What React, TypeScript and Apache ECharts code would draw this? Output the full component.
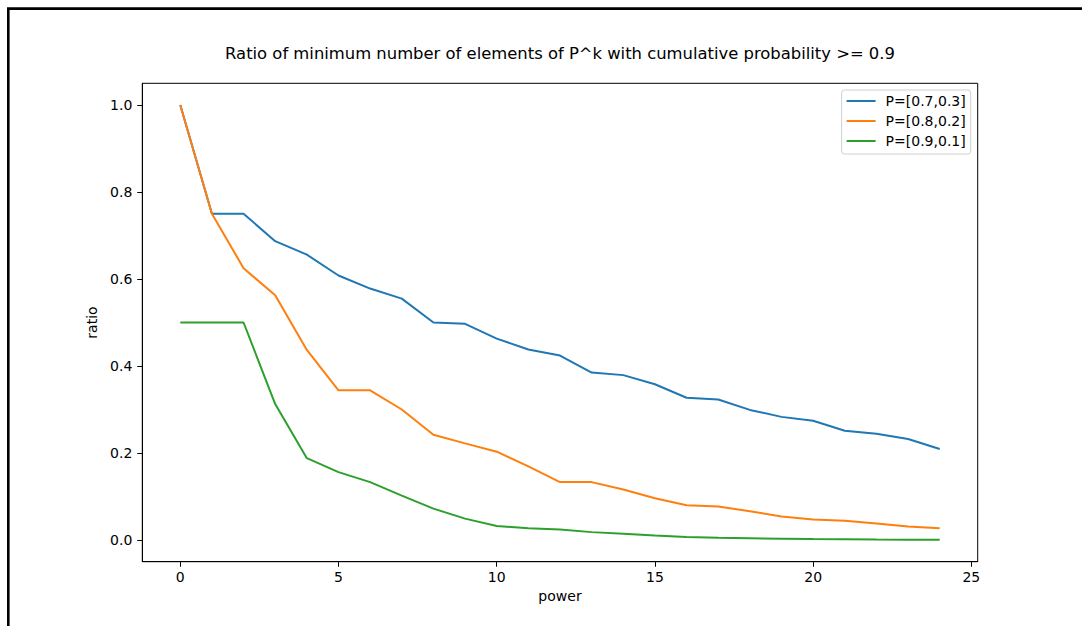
import React, { useEffect, useRef } from "react";
import * as echarts from "echarts";

const powers: number[] = Array.from({ length: 25 }, (_, i) => i);
const seriesNames: string[] = ["P=[0.7,0.3]", "P=[0.8,0.2]", "P=[0.9,0.1]"];
const ratioP73: number[] = [
  1.0, 0.75, 0.75, 0.687, 0.656, 0.608, 0.578, 0.555, 0.5, 0.497, 0.463, 0.438, 0.424,
  0.385, 0.379, 0.358, 0.327, 0.323, 0.299, 0.283, 0.274, 0.251, 0.244, 0.232, 0.209,
];
const ratioP82: number[] = [
  1.0, 0.75, 0.625, 0.5625, 0.437, 0.344, 0.344, 0.3, 0.242, 0.222, 0.203, 0.169, 0.133,
  0.133, 0.116, 0.096, 0.08, 0.077, 0.066, 0.054, 0.047, 0.044, 0.038, 0.031, 0.027,
];
const ratioP91: number[] = [
  0.5, 0.5, 0.5, 0.3125, 0.188, 0.156, 0.133, 0.102, 0.072, 0.049, 0.032, 0.027, 0.024,
  0.018, 0.014, 0.01, 0.007, 0.005, 0.004, 0.003, 0.002, 0.0015, 0.001, 0.0007, 0.0005,
];
const xTicks: number[] = [0, 5, 10, 15, 20, 25];
const yTicks: number[] = [0, 0.2, 0.4, 0.6, 0.8, 1.0];
const colors: string[] = ["#1f77b4", "#ff7f0e", "#2ca02c"];
const titleText = "Ratio of minimum number of elements of P^k with cumulative probability >= 0.9";

const FONT = "DejaVu Sans";

export default function App() {
  const ref = useRef<HTMLDivElement>(null);
  useEffect(() => {
    if (!ref.current) return;
    const chart = echarts.init(ref.current, undefined, { renderer: "svg" });
    const allData = [ratioP73, ratioP82, ratioP91];
    chart.setOption({
      animation: false,
      backgroundColor: "#ffffff",
      textStyle: { fontFamily: FONT },
      grid: {
        left: 142.3,
        top: 83.3,
        right: 104.3,
        bottom: 64.3,
        show: true,
        borderColor: "#000",
        borderWidth: 1,
        containLabel: false,
      },
      xAxis: {
        type: "value",
        min: -1.2,
        max: 25.2,
        name: "power",
        nameLocation: "middle",
        nameGap: 23,
        nameTextStyle: { fontSize: 14, color: "#000", fontFamily: FONT },
        splitLine: { show: false },
        axisLine: { show: true, onZero: false, lineStyle: { color: "#000", width: 1 } },
        axisTick: { show: true, inside: false, length: 5, customValues: xTicks, lineStyle: { color: "#000", width: 1 } },
        axisLabel: { customValues: xTicks, margin: 8, fontSize: 14, color: "#000", fontFamily: FONT },
      },
      yAxis: {
        type: "value",
        min: -0.05,
        max: 1.05,
        name: "ratio",
        nameLocation: "middle",
        nameGap: 27,
        nameTextStyle: { fontSize: 14, color: "#000", fontFamily: FONT },
        splitLine: { show: false },
        axisLine: { show: true, onZero: false, lineStyle: { color: "#000", width: 1 } },
        axisTick: { show: true, inside: false, length: 5, customValues: yTicks, lineStyle: { color: "#000", width: 1 } },
        axisLabel: {
          customValues: yTicks,
          margin: 10,
          fontSize: 14,
          color: "#000",
          fontFamily: FONT,
          formatter: (v: number) => v.toFixed(1),
        },
      },
      legend: {
        orient: "vertical",
        right: 111.3,
        top: 90,
        icon: "rect",
        itemWidth: 29,
        itemHeight: 2,
        itemGap: 6,
        padding: [4, 5, 6, 5],
        backgroundColor: "#fff",
        borderColor: "#d0d0d0",
        borderWidth: 1,
        borderRadius: 3,
        textStyle: { fontSize: 14, color: "#000", fontFamily: FONT, padding: [0, 0, 0, 5] },
        data: seriesNames,
      },
      graphic: [
        {
          type: "text",
          x: 560,
          y: 53,
          style: {
            text: titleText,
            fontSize: 16.4,
            fontFamily: FONT,
            fill: "#000",
            align: "center",
            verticalAlign: "middle",
          },
        },
        {
          type: "rect",
          shape: { x: 8.3, y: 8.6, width: 1300, height: 900 },
          style: { fill: "none", stroke: "#000", lineWidth: 2.6 },
          silent: true,
        },
      ],
      series: seriesNames.map((name, i) => ({
        name,
        type: "line",
        symbol: "none",
        showSymbol: false,
        color: colors[i],
        lineStyle: { color: colors[i], width: 2 },
        data: powers.map((p, j) => [p, allData[i][j]]),
        z: 2 + i,
      })),
    });
    return () => chart.dispose();
  }, []);
  return (
    <div
      ref={ref}
      style={{ position: "absolute", left: 0, top: 0, width: 1082, height: 626 }}
    />
  );
}
